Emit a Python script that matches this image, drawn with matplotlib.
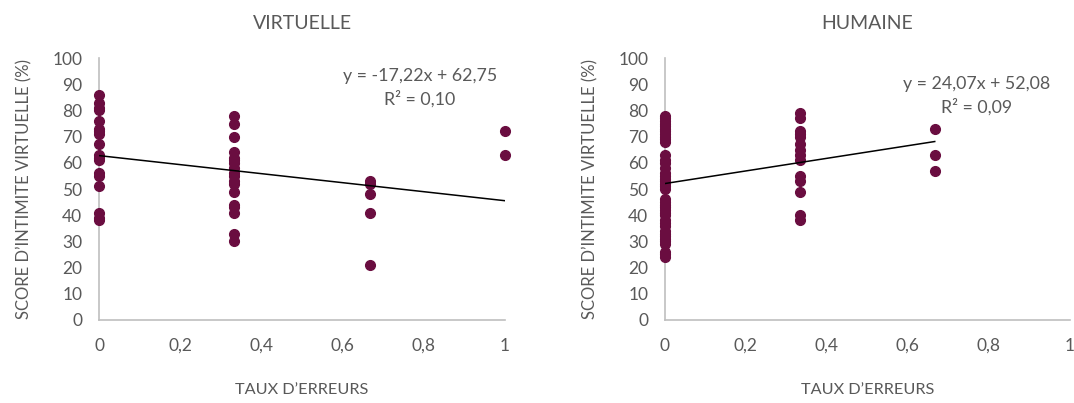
import matplotlib.pyplot as plt
import numpy as np

plt.rcParams['font.family'] = ['Lato', 'DejaVu Sans']

# taux d'erreurs / score, group VIRTUELLE
virt_x0 = [86, 83, 81, 80, 76, 73, 72, 71, 67, 63, 62, 61, 56, 55, 51, 41, 39, 38]
virt_x1 = [78, 75, 70, 64, 62, 61, 60, 58, 56, 55, 53, 52, 49, 44, 43, 41, 33, 30]
virt_x2 = [53, 52, 48, 41, 21]
virt_x3 = [72, 63]
virt_levels = [0, 1/3, 2/3, 1]
virt_fit = (-17.22, 62.75)

# group HUMAINE
hum_x0 = [78, 77, 76, 75, 74, 73, 72, 71, 70, 69, 68, 63, 61, 60, 58, 56, 55, 54,
          53, 52, 51, 50, 46, 45, 44, 43, 42, 41, 40, 38, 37, 36, 34, 33, 32, 31,
          30, 29, 26, 25, 24]
hum_x1 = [79, 77, 72, 71, 70, 67, 65, 63, 61, 55, 53, 49, 40, 38]
hum_x2 = [73, 63, 57]
hum_levels = [0, 1/3, 2/3]
hum_fit = (24.07, 52.08)

txt = '#595959'
dot = '#6a0d40'

fig = plt.figure(figsize=(10.74, 4.03), dpi=100)
ax1 = fig.add_axes([0.0922, 0.206, 0.378, 0.650])
ax2 = fig.add_axes([0.619, 0.206, 0.377, 0.650])

def draw(ax, levels, groups, fit, title, eqpos):
    for lv, g in zip(levels, groups):
        ax.plot([lv] * len(g), g, 'o', color=dot, ms=7, zorder=3, clip_on=False)
    xs = np.array([0, max(levels)])
    ax.plot(xs, fit[0] * xs + fit[1], color='black', lw=1.1, zorder=4)
    ax.set_xlim(0, 1)
    ax.set_ylim(0, 100)
    ax.set_xticks([0, 0.2, 0.4, 0.6, 0.8, 1])
    ax.set_xticklabels(['0', '0,2', '0,4', '0,6', '0,8', '1'])
    ax.set_yticks(range(0, 101, 10))
    ax.tick_params(length=0, colors=txt, labelsize=12.5, pad=12)
    ax.tick_params(axis='x', pad=13)
    for s in ['top', 'right']:
        ax.spines[s].set_visible(False)
    for s in ['left', 'bottom']:
        ax.spines[s].set_color('#bfbfbf')
        ax.spines[s].set_linewidth(1.2)
    ax.set_title(title, color=txt, fontsize=14, pad=21)
    ax.set_xlabel('TAUX D\u2019ERREURS', color=txt, fontsize=11.7, labelpad=21)
    ax.set_ylabel('SCORE D\u2019INTIMITE VIRTUELLE (%)', color=txt, fontsize=12, labelpad=14)
    sign = '-' if fit[0] < 0 else ''
    eq = 'y = %s%sx + %s' % (sign, ('%.2f' % abs(fit[0])).replace('.', ','),
                             ('%.2f' % fit[1]).replace('.', ','))
    ax.text(eqpos[0], eqpos[1], eq, color=txt, fontsize=12.8, ha='center', va='center')
    ax.text(eqpos[0], eqpos[2], 'R\u00b2 = ' + eqpos[3], color=txt, fontsize=12.8,
            ha='center', va='center')

draw(ax1, virt_levels, [virt_x0, virt_x1, virt_x2, virt_x3], virt_fit, 'VIRTUELLE',
     (0.79, 93, 84.5, '0,10'))
draw(ax2, hum_levels, [hum_x0, hum_x1, hum_x2], hum_fit, 'HUMAINE',
     (0.77, 90, 81.5, '0,09'))

fig.savefig('out.png', dpi=100)
